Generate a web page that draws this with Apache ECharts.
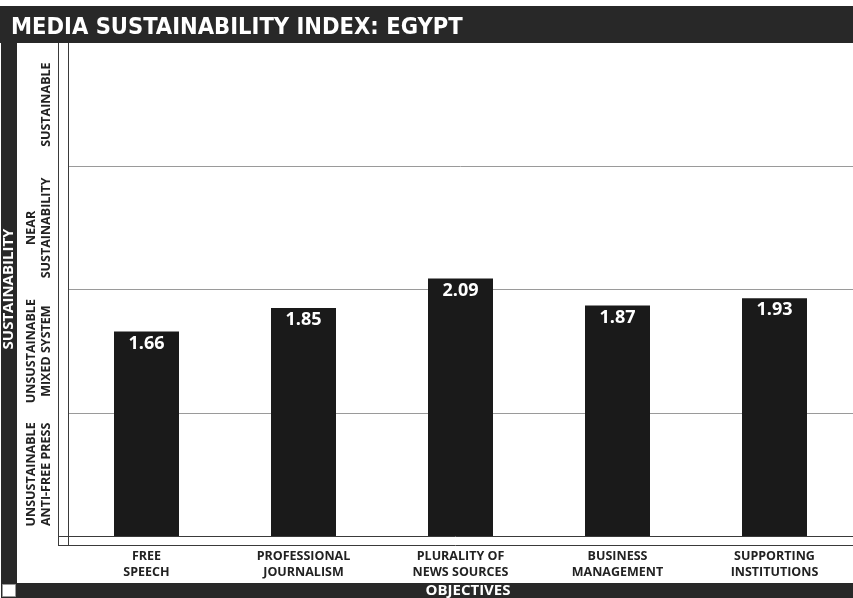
<!DOCTYPE html>
<html>
<head>
<meta charset="utf-8">
<script src="https://cdn.jsdelivr.net/npm/echarts@6/dist/echarts.min.js"></script>
<style>
html,body{margin:0;padding:0;background:#fff;}
#c{width:853px;height:598px;}
</style>
</head>
<body>
<div id="c"></div>
<script>
const categories = ['FREE\nSPEECH', 'PROFESSIONAL\nJOURNALISM', 'PLURALITY OF\nNEWS SOURCES', 'BUSINESS\nMANAGEMENT', 'SUPPORTING\nINSTITUTIONS'];
const scores = [1.66, 1.85, 2.09, 1.87, 1.93];
const bandLabels = ['UNSUSTAINABLE\nANTI-FREE PRESS', 'UNSUSTAINABLE\nMIXED SYSTEM', 'NEAR\nSUSTAINABILITY', 'SUSTAINABLE'];
const yMin = 0, yMax = 4, yStep = 1;
const titleText = 'MEDIA SUSTAINABILITY INDEX: EGYPT';
const yTitle = 'SUSTAINABILITY';
const xTitle = 'OBJECTIVES';

const dark = '#282828';
const lineCol = '#3a3a3a';
const chart = echarts.init(document.getElementById('c'), null, {renderer: 'canvas'});
chart.setOption({
  backgroundColor: '#fff',
  animation: false,
  title: {
    text: titleText,
    left: 6, top: 11,
    textStyle: {color: '#fff', fontFamily: '"Liberation Sans Narrow","DejaVu Sans Condensed",sans-serif', fontWeight: 'bold', fontSize: 23.5}
  },
  grid: {left: 68, right: 0, top: 43, bottom: 62},
  xAxis: {
    type: 'category', data: categories,
    axisLine: {show: false}, axisTick: {show: false},
    axisLabel: {margin: 12, color: '#222', fontFamily: '"Open Sans",sans-serif', fontWeight: 'bold', fontSize: 12.5, lineHeight: 16, interval: 0}
  },
  yAxis: [{
    type: 'value', min: yMin, max: yMax, interval: yStep,
    axisLine: {show: false}, axisTick: {show: false}, axisLabel: {show: false},
    splitLine: {show: true, showMinLine: false, showMaxLine: false, lineStyle: {color: '#9a9a9a', width: 1}}
  }, {
    type: 'category', data: bandLabels, position: 'left',
    axisLine: {show: false}, axisTick: {show: false}, splitLine: {show: false},
    axisLabel: {rotate: 90, interval: 0, margin: 14, color: '#222', fontFamily: '"Open Sans",sans-serif', fontWeight: 'bold', fontSize: 12.5, lineHeight: 15}
  }],
  series: [{
    type: 'bar', data: scores, barWidth: 65, yAxisIndex: 0,
    itemStyle: {color: '#1a1a1a'},
    label: {show: true, position: 'insideTop', distance: 3, color: '#fff', fontFamily: '"Open Sans",sans-serif', fontWeight: 'bold', fontSize: 18,
      formatter: p => p.value.toFixed(2)}
  }],
  graphic: [
    {type: 'rect', shape: {x: 0, y: 6, width: 853, height: 37}, style: {fill: dark}, z: 0},
    {type: 'rect', shape: {x: 1, y: 43, width: 16, height: 555}, style: {fill: dark}, z: 0},
    {type: 'rect', shape: {x: 1, y: 583, width: 852, height: 15}, style: {fill: dark}, z: 0},
    {type: 'rect', shape: {x: 2.5, y: 584.5, width: 13, height: 12}, style: {fill: '#fff', stroke: '#999', lineWidth: 1}, z: 1},
    {type: 'line', shape: {x1: 58.5, y1: 43, x2: 58.5, y2: 545}, style: {stroke: lineCol, lineWidth: 1}, z: 1},
    {type: 'line', shape: {x1: 68.5, y1: 43, x2: 68.5, y2: 545}, style: {stroke: lineCol, lineWidth: 1}, z: 1},
    {type: 'line', shape: {x1: 58, y1: 536.5, x2: 853, y2: 536.5}, style: {stroke: lineCol, lineWidth: 1}, z: 1},
    {type: 'line', shape: {x1: 58, y1: 545.5, x2: 853, y2: 545.5}, style: {stroke: lineCol, lineWidth: 1}, z: 1},
    {type: 'text', x: 9, y: 289, rotation: Math.PI / 2, z: 2,
      style: {text: yTitle, fill: '#fff', font: 'bold 15px "Open Sans",sans-serif', textAlign: 'center', textVerticalAlign: 'middle'}},
    {type: 'text', x: 468, y: 591, z: 2,
      style: {text: xTitle, fill: '#fff', font: 'bold 15px "Open Sans",sans-serif', textAlign: 'center', textVerticalAlign: 'middle'}}
  ]
});
</script>
</body>
</html>
